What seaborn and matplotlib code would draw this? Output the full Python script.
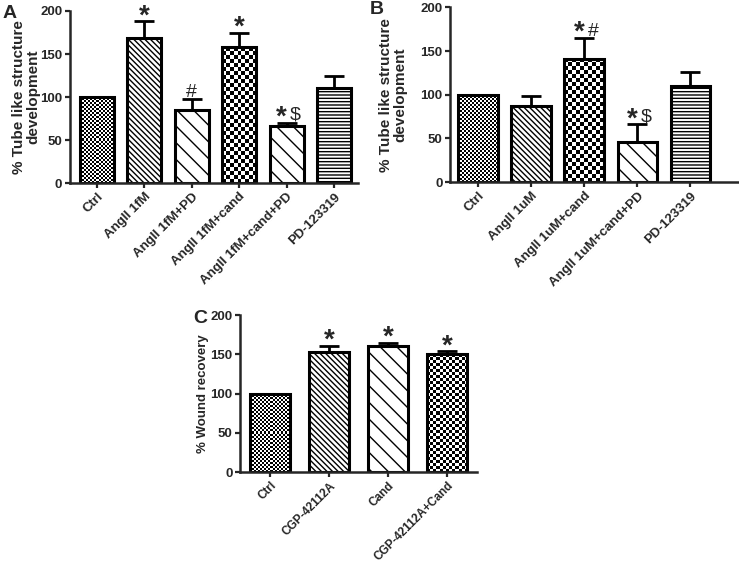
import numpy as np
import matplotlib
matplotlib.use('Agg')
import matplotlib.pyplot as plt
import seaborn as sns


# Panel A: tube formation, AngII 1fM
a_groups = ['Ctrl', 'AngII 1fM', 'AngII 1fM+PD', 'AngII 1fM+cand',
            'AngII 1fM+cand+PD', 'PD-123319']
a_means = [100, 169, 85, 158, 66, 110]
a_err = [0, 19, 13, 17, 4, 15]
a_marks = ['', '*', '#', '*', '*$', '']

# Panel B: tube formation, AngII 1uM
b_groups = ['Ctrl', 'AngII 1uM', 'AngII 1uM+cand', 'AngII 1uM+cand+PD',
            'PD-123319']
b_means = [100, 87, 141, 46, 110]
b_err = [0, 12, 24, 20, 16]
b_marks = ['', '', '*#', '*$', '']

# Panel C: wound recovery
c_groups = ['Ctrl', 'CGP-42112A', 'Cand', 'CGP-42112A+Cand']
c_means = [100, 153, 161, 150]
c_err = [0, 8, 4, 4]
c_marks = ['', '*', '*', '*']

# fill style per bar
a_fill = ['fine', 'dense', 'sparse', 'check', 'sparse', 'hline']
b_fill = ['fine', 'dense', 'check', 'sparse', 'hline']
c_fill = ['fine', 'dense', 'sparse', 'check']

sns.set_style('ticks')
plt.rcParams['font.family'] = ['Liberation Sans', 'DejaVu Sans']
plt.rcParams['font.weight'] = 'bold'
plt.rcParams['axes.labelweight'] = 'bold'
plt.rcParams['hatch.linewidth'] = 1.0


def checker(ax, bar, cell_px):
    # black/white checkerboard clipped to the bar
    x0, y0 = bar.get_x(), bar.get_y()
    w, h = bar.get_width(), bar.get_height()
    p0 = ax.transData.transform((x0, y0))
    p1 = ax.transData.transform((x0 + w, y0 + h))
    nx = max(1, int(round((p1[0] - p0[0]) / cell_px)))
    ny = max(1, int(round((p1[1] - p0[1]) / cell_px)))
    grid = np.add.outer(np.arange(ny), np.arange(nx)) % 2
    ax.imshow(grid, cmap='gray', vmin=0, vmax=1, origin='lower',
              extent=(x0, x0 + w, y0, y0 + h), aspect='auto',
              interpolation='nearest', clip_path=bar, zorder=0.9)


def add_marks(ax, i, top, mk):
    # significance symbols above the error bar; star sits lower in its box
    if len(mk) == 2:
        dxs = [-3.5, 6.5]
    else:
        dxs = [0]
    for ch, dx in zip(mk, dxs):
        if ch == '*':
            size, dy = 20, -1.5
        elif ch == '$':
            size, dy = 14, 2.3
        else:
            size, dy = 14, 1.5
        ax.annotate(ch, xy=(i, top), xytext=(dx, dy),
                    textcoords='offset points', ha='center',
                    va='baseline', fontsize=size,
                    fontweight='bold' if ch == '*' else 'normal')


def panel(ax, groups, means, err, marks, fills, width, xlim, ylabel,
          check_px=4, ylab_size=11, ylab_pad=3, xtick_size=9.5):
    sns.barplot(x=groups, y=means, ax=ax, color='white', width=width,
                edgecolor='black', linewidth=2.2, saturation=1)
    ax.set_xlim(*xlim)
    ax.set_ylim(0, 200)
    for bar, fill in zip(ax.patches, fills):
        bar.set_zorder(2)
        if fill == 'fine':
            bar.set_facecolor('none')
            checker(ax, bar, 2)
        elif fill == 'check':
            bar.set_facecolor('none')
            checker(ax, bar, check_px)
        elif fill == 'dense':
            bar.set_hatch('\\\\\\\\\\\\')
        elif fill == 'sparse':
            bar.set_hatch('\\\\')
        elif fill == 'hline':
            bar.set_hatch('-----')
    x = np.arange(len(groups))
    m = np.array(means, dtype=float)
    e = np.array(err, dtype=float)
    keep = e > 0
    ax.errorbar(x[keep], m[keep], yerr=[np.zeros(keep.sum()), e[keep]],
                fmt='none', ecolor='black', elinewidth=2, capsize=7,
                capthick=2, zorder=1.5)
    for i, mk in enumerate(marks):
        if mk:
            add_marks(ax, i, m[i] + e[i], mk)
    ax.set_yticks([0, 50, 100, 150, 200])
    ax.set_xticks(x)
    ax.set_xticklabels(groups, rotation=45, ha='right',
                       rotation_mode='anchor')
    ax.tick_params(axis='both', width=1.6, length=3.5, pad=2,
                   labelsize=9.5)
    ax.tick_params(axis='x', labelsize=xtick_size)
    ax.set_ylabel(ylabel, fontsize=ylab_size, linespacing=1.05,
                  labelpad=ylab_pad)
    for sp in ['left', 'bottom']:
        ax.spines[sp].set_linewidth(1.8)
    sns.despine(ax=ax)


fig = plt.figure(figsize=(7.39, 5.64), dpi=100)
ax_a = fig.add_axes([0.0947, 0.6755, 0.39, 0.305])
ax_b = fig.add_axes([0.609, 0.677, 0.39, 0.310])
ax_c = fig.add_axes([0.325, 0.163, 0.321, 0.278])

panel(ax_a, a_groups, a_means, a_err, a_marks, a_fill, 0.72,
      (-0.57, 5.51), '% Tube like structure\ndevelopment', ylab_pad=0)
panel(ax_b, b_groups, b_means, b_err, b_marks, b_fill, 0.75,
      (-0.53, 4.9), '% Tube like structure\ndevelopment', ylab_pad=9)
panel(ax_c, c_groups, c_means, c_err, c_marks, c_fill, 0.68,
      (-0.51, 3.51), '% Wound recovery', check_px=3, ylab_size=9.5,
      ylab_pad=1, xtick_size=8.5)

fig.text(0.003, 0.992, 'A', fontsize=14, fontweight='bold', va='top')
fig.text(0.5, 0.998, 'B', fontsize=14, fontweight='bold', va='top')
fig.text(0.261, 0.45, 'C', fontsize=14, fontweight='bold', va='top')

fig.savefig('out.png', dpi=100, facecolor='white')
